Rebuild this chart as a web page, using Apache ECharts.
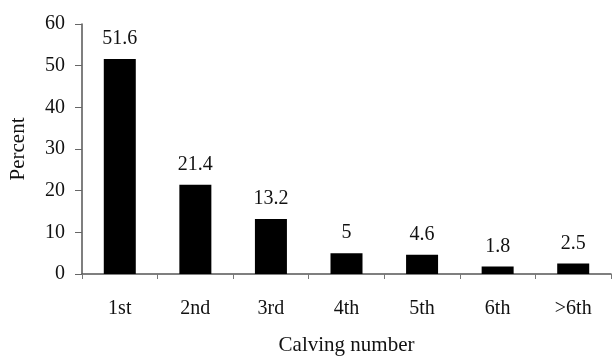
<!DOCTYPE html>
<html>
<head>
<meta charset="utf-8">
<script src="https://cdn.jsdelivr.net/npm/echarts@6/dist/echarts.min.js"></script>
<style>html,body{margin:0;padding:0;background:#fff}#c{width:612px;height:361px}</style>
</head>
<body>
<div id="c"></div>
<script>
const categories = ['1st','2nd','3rd','4th','5th','6th','>6th'];
const percentValues = [51.6, 21.4, 13.2, 5, 4.6, 1.8, 2.5];
const yTicks = [0, 10, 20, 30, 40, 50, 60];

const font = 'Liberation Serif, Times New Roman, serif';
const chart = echarts.init(document.getElementById('c'), null, {renderer: 'canvas'});
chart.setOption({
  animation: false,
  backgroundColor: '#fff',
  grid: {left: 81, right: 1, top: 24, bottom: 82, containLabel: false},
  xAxis: {
    type: 'category',
    data: categories,
    name: 'Calving number',
    nameLocation: 'middle',
    nameGap: 61,
    nameTextStyle: {fontFamily: font, fontSize: 21, color: '#111', letterSpacing: 0.8},
    axisLine: {lineStyle: {color: '#555', width: 1.5}},
    axisTick: {show: true, length: 5, lineStyle: {color: '#777'}},
    axisLabel: {fontFamily: font, fontSize: 20, color: '#111', margin: 25}
  },
  yAxis: {
    type: 'value',
    min: yTicks[0],
    max: yTicks[yTicks.length - 1],
    interval: 10,
    name: 'Percent',
    nameLocation: 'middle',
    nameGap: 53,
    nameTextStyle: {fontFamily: font, fontSize: 21, color: '#111'},
    splitLine: {show: false},
    axisLine: {show: true, lineStyle: {color: '#555', width: 1.5}},
    axisTick: {show: true, length: 7, lineStyle: {color: '#666'}},
    axisLabel: {fontFamily: font, fontSize: 20, color: '#111', margin: 17, padding: [3, 0, 0, 0]}
  },
  series: [{
    type: 'bar',
    data: percentValues,
    barWidth: 32,
    itemStyle: {color: '#000'},
    label: {show: true, position: 'top', distance: 10, fontFamily: font, fontSize: 20, color: '#111'}
  }]
});
</script>
</body>
</html>
